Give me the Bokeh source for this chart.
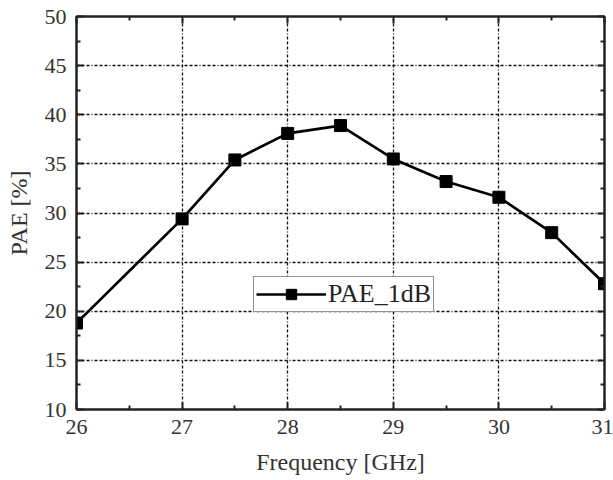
from bokeh.plotting import figure
from bokeh.models import Range1d, LinearAxis, FixedTicker, Legend, LegendItem
from bokeh.embed import file_html
from bokeh.resources import INLINE

freq = [26, 27, 27.5, 28, 28.5, 29, 29.5, 30, 30.5, 31]
pae = [18.8, 29.4, 35.4, 38.1, 38.9, 35.5, 33.2, 31.6, 28.0, 22.8]
x_ticks = [26, 27, 28, 29, 30, 31]
x_minor = [26.5, 27.5, 28.5, 29.5, 30.5]
y_ticks = [10, 15, 20, 25, 30, 35, 40, 45, 50]
y_minor = [12.5, 17.5, 22.5, 27.5, 32.5, 37.5, 42.5, 47.5]
series_name = "PAE_1dB"

FONT = "'Liberation Serif', 'Times New Roman', serif"

p = figure(width=613, height=480, output_backend="svg", toolbar_location=None,
           x_range=Range1d(26, 31), y_range=Range1d(10, 50),
           min_border_left=76, min_border_right=9, min_border_top=16, min_border_bottom=71,
           x_axis_label="Frequency [GHz]", y_axis_label="PAE [%]")
p.background_fill_color = "white"
p.border_fill_color = "white"
p.outline_line_color = "#222222"
p.outline_line_width = 2

xt = FixedTicker(ticks=x_ticks, minor_ticks=x_minor)
yt = FixedTicker(ticks=y_ticks, minor_ticks=y_minor)

def style_axis(ax):
    ax.axis_line_color = "#222222"
    ax.axis_line_width = 2
    ax.major_tick_in = 7
    ax.major_tick_out = 0
    ax.minor_tick_in = 4
    ax.minor_tick_out = 0
    ax.major_tick_line_color = "#222222"
    ax.minor_tick_line_color = "#222222"
    ax.major_tick_line_width = 2
    ax.minor_tick_line_width = 2
    ax.major_label_text_font = FONT
    ax.major_label_text_font_size = "22px"
    ax.major_label_text_color = "#333333"
    ax.axis_label_text_font = FONT
    ax.axis_label_text_font_size = "24px"
    ax.axis_label_text_font_style = "normal"
    ax.axis_label_text_color = "#333333"

p.xaxis[0].ticker = xt
p.yaxis[0].ticker = yt
style_axis(p.xaxis[0])
style_axis(p.yaxis[0])
p.xaxis[0].major_label_standoff = 10
p.yaxis[0].major_label_standoff = 10
p.xaxis[0].axis_label_standoff = 12
p.yaxis[0].axis_label_standoff = 10

top = LinearAxis(ticker=xt)
style_axis(top)
top.major_label_overrides = {t: "" for t in x_ticks}
top.major_label_standoff = 0
right = LinearAxis(ticker=yt)
style_axis(right)
right.major_label_overrides = {t: "" for t in y_ticks}
right.major_label_standoff = 0
p.add_layout(top, "above")
p.add_layout(right, "right")

for g in (p.xgrid[0], p.ygrid[0]):
    g.grid_line_color = "#111111"
    g.grid_line_width = 1.3
    g.grid_line_dash = "3 2 3 2 3 2 1 2"
p.xgrid[0].ticker = FixedTicker(ticks=x_ticks[1:-1])
p.ygrid[0].ticker = FixedTicker(ticks=y_ticks[1:-1])

ln = p.line(freq, pae, line_color="black", line_width=2.7)
sc = p.scatter(freq, pae, marker="square", size=12, fill_color="black", line_color="black")

legend = Legend(items=[LegendItem(label=series_name, renderers=[ln, sc])],
                location=(177, 97))
legend.label_text_font = FONT
legend.label_text_font_size = "26px"
legend.label_text_color = "#222222"
legend.border_line_color = "#222222"
legend.border_line_width = 1.5
legend.background_fill_color = "white"
legend.background_fill_alpha = 1
legend.padding = 2
legend.margin = 0
legend.glyph_width = 70
legend.glyph_height = 26
legend.label_height = 26
legend.label_standoff = 2
p.add_layout(legend, "center")

open("out.html", "w").write(file_html(p, INLINE))
